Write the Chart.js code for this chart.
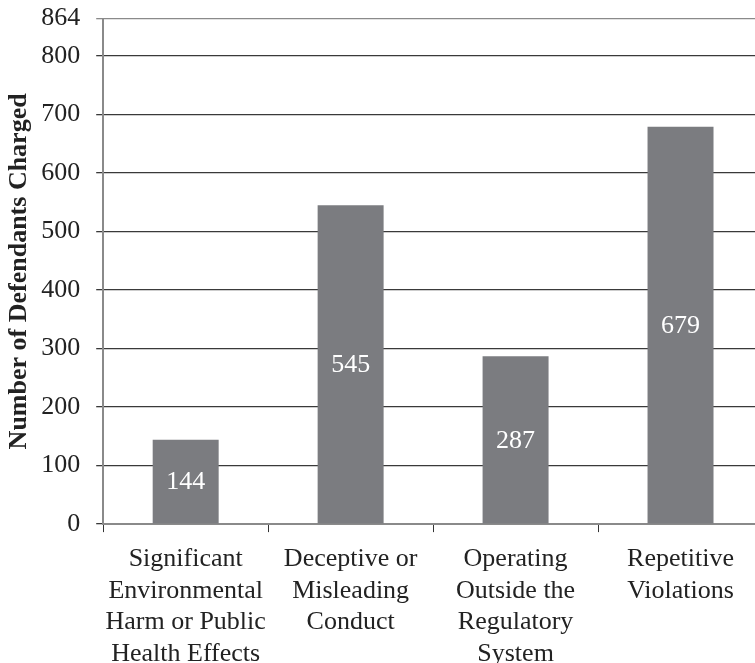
<!DOCTYPE html>
<html lang="en">
<head>
<meta charset="UTF-8">
<title>Defendants Charged</title>
<script src="https://cdn.jsdelivr.net/npm/chart.js@4.4.0/dist/chart.umd.min.js"></script>
<style>
    html, body { margin: 0; padding: 0; background: #ffffff; overflow: hidden; }
    #wrap { width: 763px; height: 694px; margin-top: -13px; }
</style>
</head>
<body>
<div id="wrap"><canvas id="myChart"></canvas></div>
<script>
var categories = [
    ["Significant", "Environmental", "Harm or Public", "Health Effects"],
    ["Deceptive or", "Misleading", "Conduct"],
    ["Operating", "Outside the", "Regulatory", "System"],
    ["Repetitive", "Violations"]
]
var defendants = [144, 545, 287, 679]
var yTicks = [0, 100, 200, 300, 400, 500, 600, 700, 800, 864]
var yTitle = "Number of Defendants Charged"

var serif = "'Liberation Serif', 'Times New Roman', serif"

// draws the value in the middle of each bar
var barValues = {
    id: 'barValues',
    afterDatasetsDraw(chart) {
        var ctx = chart.ctx
        var meta = chart.getDatasetMeta(0)
        ctx.save()
        ctx.fillStyle = '#ffffff'
        ctx.font = '26px ' + serif
        ctx.textAlign = 'center'
        ctx.textBaseline = 'middle'
        meta.data.forEach((bar, i) => {
            ctx.fillText(defendants[i], bar.x, (bar.y + bar.base) / 2 + 1)
        })
        ctx.restore()
    }
}

var ctx = document.getElementById('myChart').getContext('2d')
var myChart = new Chart(ctx, {
    type: 'bar',
    data: {
        labels: categories,
        datasets: [{
            data: defendants,
            backgroundColor: '#7b7c80',
            barPercentage: 0.8,
            categoryPercentage: 0.5
        }]
    },
    plugins: [barValues],
    options: {
        responsive: true,
        maintainAspectRatio: false,
        animation: false,
        layout: { padding: { top: 0, left: 2, right: 0, bottom: 0 } },
        plugins: {
            legend: { display: false },
            tooltip: { enabled: false }
        },
        scales: {
            x: {
                offset: true,
                grid: {
                    offset: true,
                    drawOnChartArea: false,
                    drawTicks: true,
                    tickLength: 8,
                    color: '#333333'
                },
                border: { color: '#8a8a8a', width: 2 },
                ticks: {
                    color: '#222222',
                    font: { family: serif, size: 26, lineHeight: 1.22 },
                    maxRotation: 0,
                    autoSkip: false,
                    padding: 11
                }
            },
            y: {
                min: 0,
                max: 864,
                afterBuildTicks: (axis) => {
                    axis.ticks = yTicks.map(v => ({ value: v }))
                },
                grid: {
                    color: (c) => c.tick && c.tick.value == 864 ? '#8a8a8a' : '#3a3a3a',
                    lineWidth: 1.3,
                    tickLength: 7
                },
                border: { color: '#8a8a8a', width: 2 },
                ticks: {
                    color: '#222222',
                    font: { family: serif, size: 26 },
                    padding: 16
                },
                title: {
                    display: true,
                    text: yTitle,
                    color: '#222222',
                    font: { family: serif, size: 26, weight: 'bold' },
                    padding: { top: 2, bottom: -10 }
                }
            }
        }
    }
})
</script>
</body>
</html>
